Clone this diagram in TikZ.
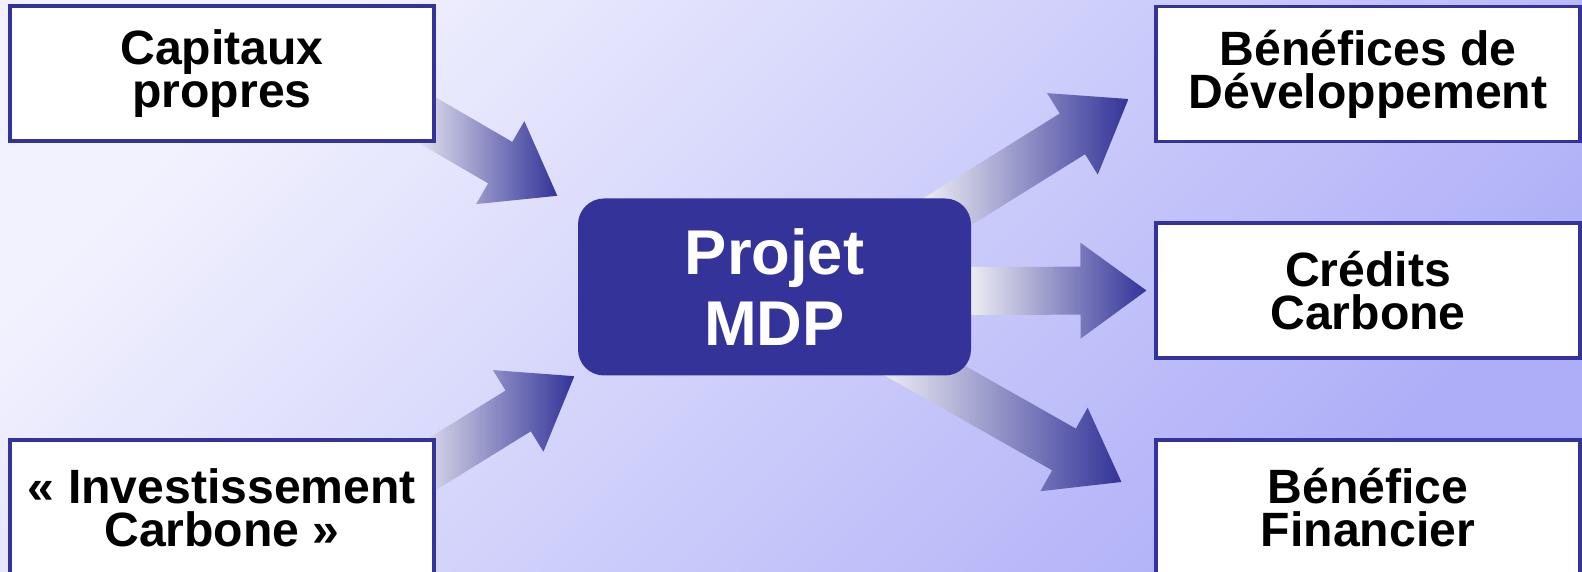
\documentclass[tikz,border=0pt]{standalone}
\usepackage{fontspec}
\setsansfont{Liberation Sans}
\usepackage{tikz}
\usetikzlibrary{calc, positioning}
\usepackage{xcolor}
\definecolor{mdpblue}{RGB}{51, 51, 153}
\definecolor{tailgray}{RGB}{242, 242, 246}
\definecolor{bglight}{RGB}{242, 242, 254}
\definecolor{bgdark}{RGB}{174, 174, 248}

\pgfdeclarelayer{bg}
\pgfdeclarelayer{arrowlayer}
\pgfsetlayers{bg,arrowlayer,main}

\begin{document}
\begin{tikzpicture}[
    box/.style={rectangle, draw=mdpblue, fill=white, line width=0.9pt, minimum width=4.24cm, minimum height=1.35cm, inner sep=2pt, align=center, font=\sffamily\bfseries\fontsize{13.7pt}{12.2pt}\selectfont},
    hub/.style={rectangle, fill=mdpblue, rounded corners=0.26cm, minimum width=3.93cm, minimum height=1.77cm, align=center, text=white, font=\sffamily\bfseries\fontsize{18pt}{20pt}\selectfont},
    fatarrow/.style={left color=tailgray, right color=mdpblue, to path={
        ($(\tikztostart)!0.24cm!90:(\tikztotarget)$)
        -- ($(\tikztotarget)!0.7023cm!-19.98:(\tikztostart)$)
        -- ($(\tikztotarget)!0.8161cm!-36.03:(\tikztostart)$)
        -- (\tikztotarget)
        -- ($(\tikztotarget)!0.8161cm!36.03:(\tikztostart)$)
        -- ($(\tikztotarget)!0.7023cm!19.98:(\tikztostart)$)
        -- ($(\tikztostart)!0.24cm!-90:(\tikztotarget)$) -- cycle}},
]

\useasboundingbox (0, 0) rectangle (15.82, 5.72);

% Background
\begin{pgfonlayer}{bg}
\shade[top color=bglight, bottom color=bgdark, shading angle=45] (0, 0) rectangle (15.82, 5.72);
\end{pgfonlayer}

% Central project
\node[hub] (projet) at (7.745, 2.85) {Projet\\MDP};

% Inputs
\node[box] (capt) at (2.22, 4.985) {Capitaux\\propres};
\node[box] (invest) at (2.22, 0.645) {« Investissement\\Carbone »};

% Outputs
\node[box] (bendev) at (13.68, 4.98) {Bénéfices de\\Développement};
\node[box] (credits) at (13.68, 2.815) {Crédits\\Carbone};
\node[box] (finance) at (13.68, 0.645) {Bénéfice\\Financier};

% Arrow ends
\coordinate (capt-out) at ($(capt.south east)+(-0.18, 0.28)$);
\coordinate (projet-in1) at ($(projet.north west)+(-0.20, 0.02)$);
\coordinate (invest-out) at ($(invest.north east)+(-0.20, -0.36)$);
\coordinate (projet-in2) at ($(projet.south west)+(-0.03, 0)$);
\coordinate (projet-out1) at ($(projet.north east)+(-0.405, -0.24)$);
\coordinate (bendev-in) at ($(bendev.west)+(-0.26, -0.25)$);
\coordinate (projet-out2) at ($(projet.east)+(-0.06, -0.04)$);
\coordinate (credits-in) at ($(credits.west)+(-0.08, 0)$);
\coordinate (projet-out3) at ($(projet.south east)+(-0.83, 0.26)$);
\coordinate (finance-in) at ($(finance.west)+(-0.33, 0.255)$);

\begin{pgfonlayer}{arrowlayer}
\path[fatarrow] (capt-out) to (projet-in1);
\path[fatarrow] (invest-out) to (projet-in2);
\path[fatarrow] (projet-out1) to (bendev-in);
\path[fatarrow] (projet-out2) to (credits-in);
\path[fatarrow] (projet-out3) to (finance-in);
\end{pgfonlayer}

\end{tikzpicture}
\end{document}
